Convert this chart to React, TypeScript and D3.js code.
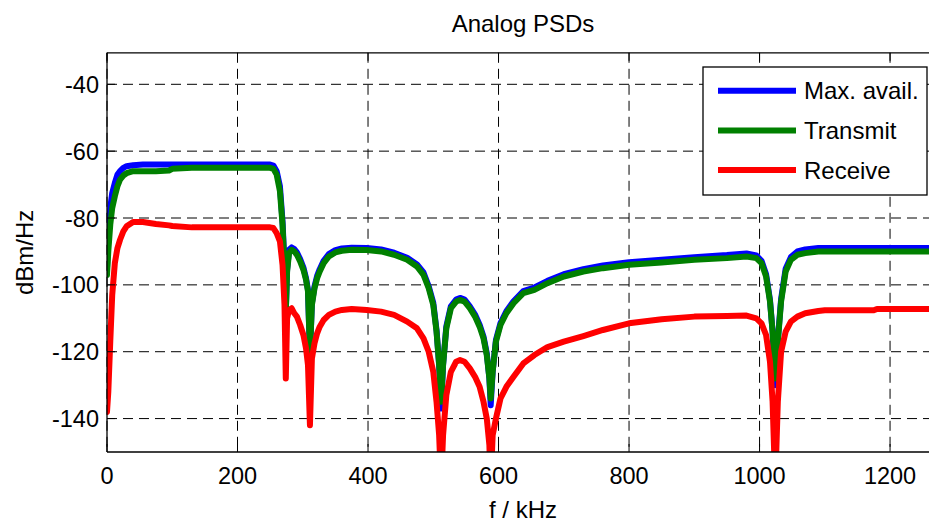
import React from 'react';
import * as d3 from 'd3';

// frequency grid in kHz, shared by all three curves
const freq = [
  0, 2, 5, 8, 12, 16, 20, 25, 30, 40, 55, 75, 95, 100, 130, 200, 250, 255, 260, 265,
  269, 272, 274, 276, 279, 283, 287, 291, 296, 301, 305, 308, 311, 314, 318, 322, 326, 332, 340, 350,
  360, 375, 398, 420, 440, 460, 475, 485, 493, 500, 505, 509, 512, 515, 520, 527, 535, 541, 548, 556,
  564, 571, 577, 582, 586, 588, 591, 596, 603, 612, 623, 638, 655, 675, 700, 730, 760, 800, 850, 900,
  950, 980, 995, 1003, 1010, 1016, 1020, 1024, 1028, 1033, 1040, 1048, 1058, 1070, 1090, 1100, 1175, 1180, 1300,
];

const maxAvail = [
  -95, -86, -77, -72.5, -69.5, -67, -66, -65, -64.5, -64.2, -64, -64, -64, -64, -64, -64, -64, -64.3, -66, -70.5,
  -81, -94, -108, -95.5, -89.5, -88.8, -89.3, -90.3, -92.3, -94.8, -98, -101.5, -121, -105.5, -100.5, -97.3, -95.3, -92.8, -90.8, -89.6,
  -89.1, -88.9, -89, -89.4, -90.4, -91.9, -93.9, -96.3, -100.4, -105.4, -113.5, -124, -137, -124, -112.4, -106.4, -104.4, -103.9, -104.4, -106.4,
  -108.9, -111.9, -115.5, -120.5, -128, -136, -126, -116.5, -111.4, -107.9, -104.9, -101.9, -100.8, -98.8, -96.8, -95.3, -94.2, -93.2, -92.5, -91.7,
  -91.1, -90.6, -91.2, -92.8, -96.8, -104.5, -114, -130, -116.5, -104.3, -95.2, -91.7, -90, -89.4, -89, -89, -89, -89, -89,
];

const transmit = [
  -97, -90, -82, -77, -73.5, -70.5, -68.5, -67.3, -66.6, -66, -66, -66, -65.8, -65.3, -65, -65, -65, -65.3, -67, -72,
  -82, -95, -108, -96, -90.5, -89.5, -90, -91, -93, -95.5, -98.5, -102, -120, -106, -101, -98, -96, -93.5, -91.5, -90.3,
  -89.8, -89.5, -89.6, -90, -91, -92.5, -94.5, -97, -101, -106, -114, -124, -135, -124, -113, -107, -105, -104.5, -105, -107,
  -109.5, -112.5, -116, -121, -128, -134, -126, -117, -112, -108.5, -105.5, -102.5, -101.5, -99.5, -97.5, -96, -95, -94, -93.3, -92.5,
  -92, -91.5, -92, -93.5, -97.5, -105, -114, -128, -117, -105, -96, -92.5, -91, -90.5, -90, -90, -90, -90, -90,
];

const receive = [
  -138, -132, -117, -103, -93.5, -89, -86.5, -84, -82.5, -81.2, -81.2, -81.8, -82.2, -82.4, -82.8, -82.8, -82.8, -83, -84.5, -87,
  -94, -106, -128, -110, -107.5, -107, -108.5, -109.5, -112, -115, -119, -124, -142, -122, -117.5, -114.5, -112.5, -110.5, -109, -108,
  -107.5, -107.2, -107.5, -108, -109, -111, -113, -116, -120, -126, -135, -145, -160, -145, -133, -126, -123, -122.5, -123, -125,
  -127.5, -130.5, -135, -140, -148, -160, -145, -140, -134, -130.5, -127.5, -123.5, -121, -118.6, -117, -115.3, -113.5, -111.5, -110.3, -109.5,
  -109.3, -109.2, -110, -111.5, -115, -123, -135, -160, -135, -120, -114, -111, -109.5, -108.5, -107.8, -107.6, -107.6, -107.2, -107.2,
];

const xTicks = [0, 200, 400, 600, 800, 1000, 1200];
const yTicks = [-140, -120, -100, -80, -60, -40];

const seriesNames = ['Max. avail.', 'Transmit', 'Receive'];
const seriesColors = ['#0000ff', '#008000', '#ff0000'];
const seriesValues = [maxAvail, transmit, receive];

const W = 929;
const H = 523;
const left = 107;
const right = 939;
const top = 52.8;
const bottom = 452;
const font = '"Liberation Sans", Arial, Helvetica, sans-serif';

export default function App() {
  const x = d3.scaleLinear().domain([0, 1275]).range([left, right]);
  const y = d3.scaleLinear().domain([-150, -40]).range([bottom, 84.3]);

  const line = d3
    .line<number>()
    .x((_, i) => x(freq[i]))
    .y((d) => y(d));

  const legX = 703;
  const legY = 67;
  const legW = 224;
  const legH = 128;

  return (
    <svg width={W} height={H} style={{ position: 'absolute', left: 0, top: 0, background: '#fff' }}>
      <defs>
        <clipPath id="plot">
          <rect x={left} y={top} width={right - left} height={bottom - top} />
        </clipPath>
      </defs>
      <rect x={0} y={0} width={W} height={H} fill="#fff" />

      {/* grid */}
      {xTicks.map((t) => (
        <line key={'gx' + t} x1={x(t)} x2={x(t)} y1={top} y2={bottom} stroke="#000" strokeWidth={1} strokeDasharray="10,6" />
      ))}
      {yTicks.map((t) => (
        <line key={'gy' + t} x1={left} x2={right} y1={y(t)} y2={y(t)} stroke="#000" strokeWidth={1} strokeDasharray="10,6" />
      ))}

      {/* curves */}
      <g clipPath="url(#plot)">
        {seriesValues.map((vals, i) => (
          <path key={seriesNames[i]} d={line(vals) || ''} fill="none" stroke={seriesColors[i]} strokeWidth={6} strokeLinejoin="round" strokeLinecap="round" />
        ))}
      </g>

      {/* frame and ticks */}
      <line x1={left} x2={right} y1={top} y2={top} stroke="#000" strokeWidth={1.3} />
      <line x1={left} x2={right} y1={bottom} y2={bottom} stroke="#000" strokeWidth={1.3} />
      <line x1={left} x2={left} y1={top} y2={bottom} stroke="#000" strokeWidth={1.3} />
      {xTicks.map((t) => (
        <g key={'tx' + t}>
          <line x1={x(t)} x2={x(t)} y1={bottom} y2={bottom - 8} stroke="#000" />
          <line x1={x(t)} x2={x(t)} y1={top} y2={top + 8} stroke="#000" />
          <text x={x(t)} y={484} textAnchor="middle" fontSize={23.5} fontFamily={font} fill="#000">
            {t}
          </text>
        </g>
      ))}
      {yTicks.map((t) => (
        <g key={'ty' + t}>
          <line x1={left} x2={left + 8} y1={y(t)} y2={y(t)} stroke="#000" />
          <text x={99} y={y(t) + 8.5} textAnchor="end" fontSize={23.5} fontFamily={font} fill="#000">
            {t}
          </text>
        </g>
      ))}

      {/* titles */}
      <text x={(left + right) / 2} y={31.5} textAnchor="middle" fontSize={24} fontFamily={font} fill="#000">
        Analog PSDs
      </text>
      <text x={(left + right) / 2} y={518} textAnchor="middle" fontSize={24} fontFamily={font} fill="#000">
        f / kHz
      </text>
      <text transform={`translate(33,${(top + bottom) / 2}) rotate(-90)`} textAnchor="middle" fontSize={24} fontFamily={font} fill="#000">
        dBm/Hz
      </text>

      {/* legend */}
      <rect x={legX} y={legY} width={legW} height={legH} fill="#fff" stroke="#000" strokeWidth={1.3} />
      {seriesNames.map((name, i) => (
        <g key={'leg' + name}>
          <line x1={718} x2={796} y1={90.7 + i * 39.7} y2={90.7 + i * 39.7} stroke={seriesColors[i]} strokeWidth={6} />
          <text x={804} y={90.7 + i * 39.7 + 8.5} fontSize={24} fontFamily={font} fill="#000">
            {name}
          </text>
        </g>
      ))}
    </svg>
  );
}
